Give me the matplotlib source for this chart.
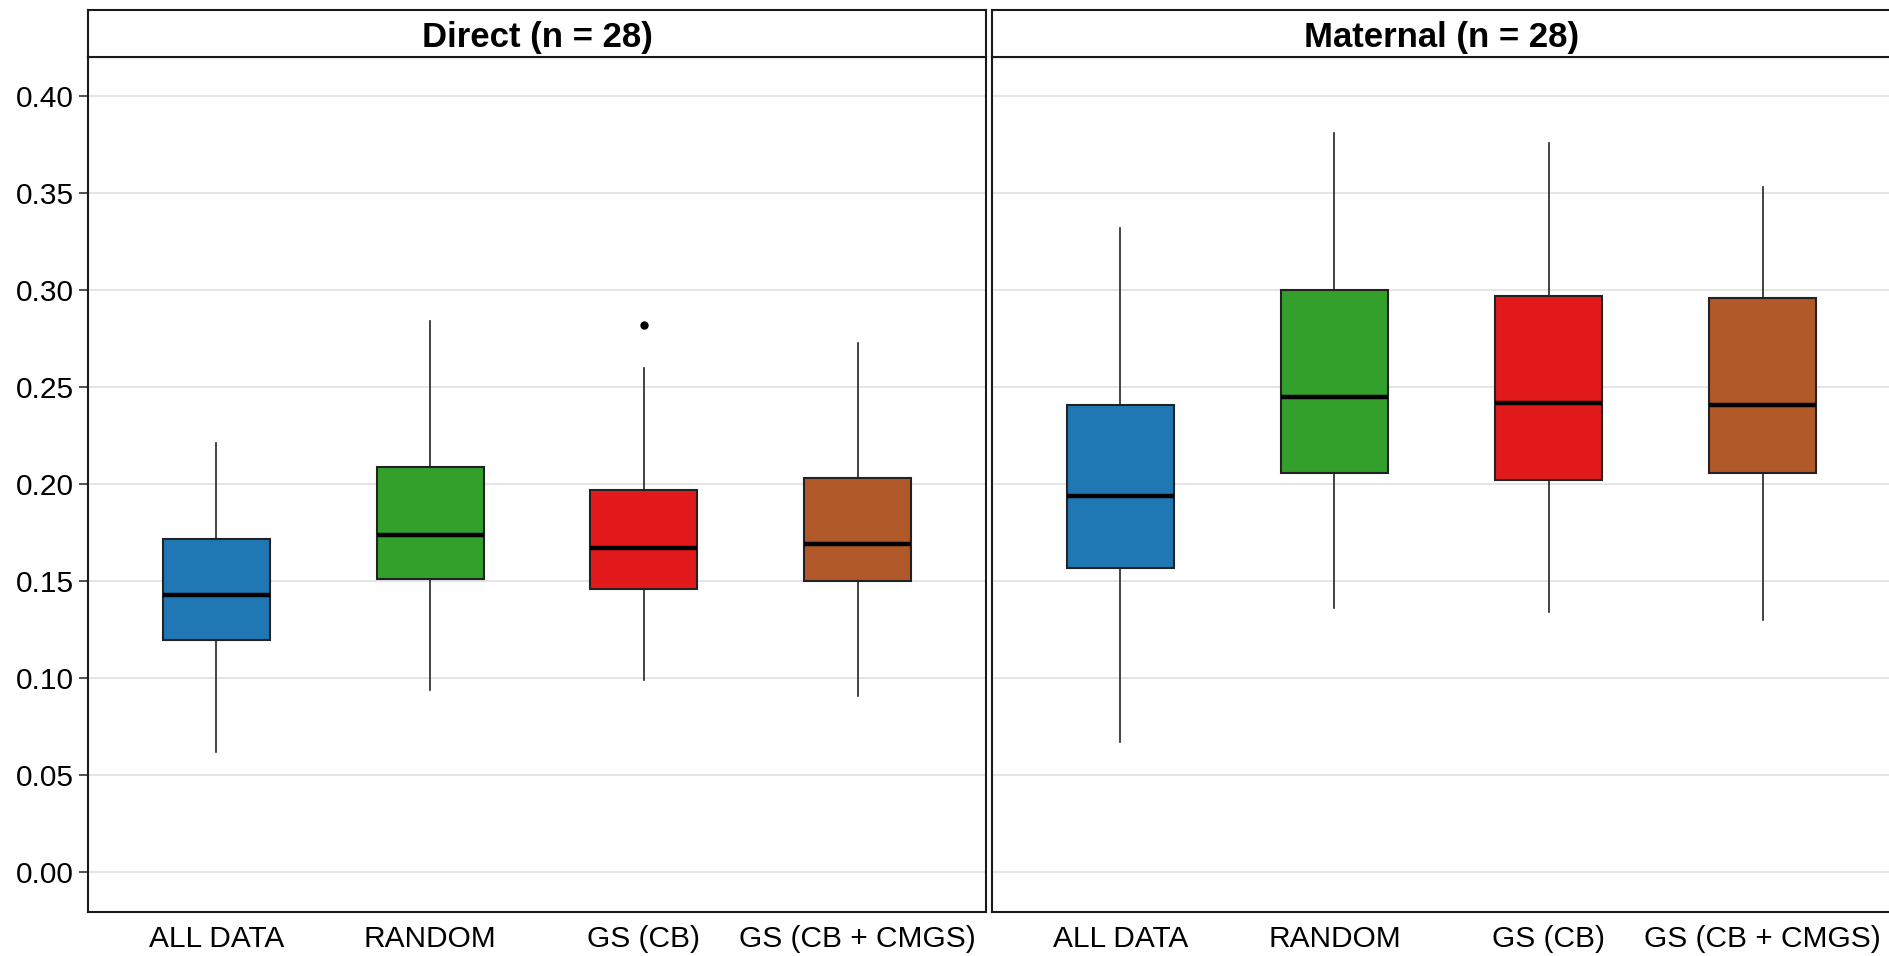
import matplotlib.pyplot as plt
import numpy as np

plt.rcParams['font.family'] = ['Liberation Sans', 'DejaVu Sans']

groups = ["ALL DATA", "RANDOM", "GS (CB)", "GS (CB + CMGS)"]
colors = ["#1F78B4", "#33A02C", "#E31A1C", "#B15928"]
panels = ["Direct (n = 28)", "Maternal (n = 28)"]

# box statistics
direct_low = [0.062, 0.094, 0.099, 0.091]
direct_q1 = [0.120, 0.151, 0.146, 0.150]
direct_med = [0.143, 0.174, 0.167, 0.169]
direct_q3 = [0.172, 0.209, 0.197, 0.203]
direct_high = [0.221, 0.284, 0.260, 0.273]
direct_out = [[], [], [0.282], []]

maternal_low = [0.067, 0.136, 0.134, 0.130]
maternal_q1 = [0.157, 0.206, 0.202, 0.206]
maternal_med = [0.194, 0.245, 0.242, 0.241]
maternal_q3 = [0.241, 0.300, 0.297, 0.296]
maternal_high = [0.332, 0.381, 0.376, 0.353]
maternal_out = [[], [], [], []]

yticks = [0.00, 0.05, 0.10, 0.15, 0.20, 0.25, 0.30, 0.35, 0.40]

W, H = 1889, 956
fig = plt.figure(figsize=(W / 100, H / 100), dpi=100)


def make_stats(low, q1, med, q3, high, out):
    return [dict(whislo=a, q1=b, med=c, q3=d, whishi=e, fliers=f)
            for a, b, c, d, e, f in zip(low, q1, med, q3, high, out)]


def draw_panel(x0, x1, title, stats, show_y):
    ax = fig.add_axes([x0 / W, 1 - 911.5 / H, (x1 - x0) / W, (911.5 - 57) / H])
    pos = np.arange(1, len(groups) + 1)
    bp = ax.bxp(stats, positions=pos, widths=0.5, patch_artist=True, showcaps=False,
                boxprops=dict(edgecolor='#222222', linewidth=1.5),
                medianprops=dict(color='black', linewidth=3.2, solid_capstyle='butt'),
                whiskerprops=dict(color='#222222', linewidth=1.2),
                flierprops=dict(marker='o', markerfacecolor='black',
                                markeredgecolor='black', markersize=5))
    for patch, c in zip(bp['boxes'], colors):
        patch.set_facecolor(c)
    ax.set_xlim(0.4, 4.6)
    ax.set_ylim(-0.0201, 0.4201)
    ax.set_yticks(yticks)
    ax.yaxis.grid(True, color='#E3E3E3', linewidth=1.3)
    ax.set_axisbelow(True)
    ax.set_xticks(pos)
    ax.set_xticklabels(groups, fontsize=21.5)
    ax.tick_params(axis='x', length=0, pad=10)
    if show_y:
        ax.set_yticklabels([f"{v:.2f}" for v in yticks], fontsize=21.5)
        ax.tick_params(axis='y', length=6.5, width=1.2, color='#333333', pad=3.5)
    else:
        ax.tick_params(axis='y', length=0, labelleft=False)
    for s in ax.spines.values():
        s.set_linewidth(1.5)
        s.set_color('#1a1a1a')

    strip = fig.add_axes([x0 / W, 1 - 57 / H, (x1 - x0) / W, (57 - 10) / H])
    strip.set_xticks([])
    strip.set_yticks([])
    for s in strip.spines.values():
        s.set_linewidth(1.5)
        s.set_color('#1a1a1a')
    strip.text(0.5, 0.42, title, ha='center', va='center', fontsize=25,
               fontweight='bold', transform=strip.transAxes)
    return ax


draw_panel(88, 986, panels[0],
           make_stats(direct_low, direct_q1, direct_med, direct_q3, direct_high, direct_out), True)
draw_panel(992, 1891, panels[1],
           make_stats(maternal_low, maternal_q1, maternal_med, maternal_q3, maternal_high, maternal_out), False)

fig.savefig("out.png", dpi=100)
